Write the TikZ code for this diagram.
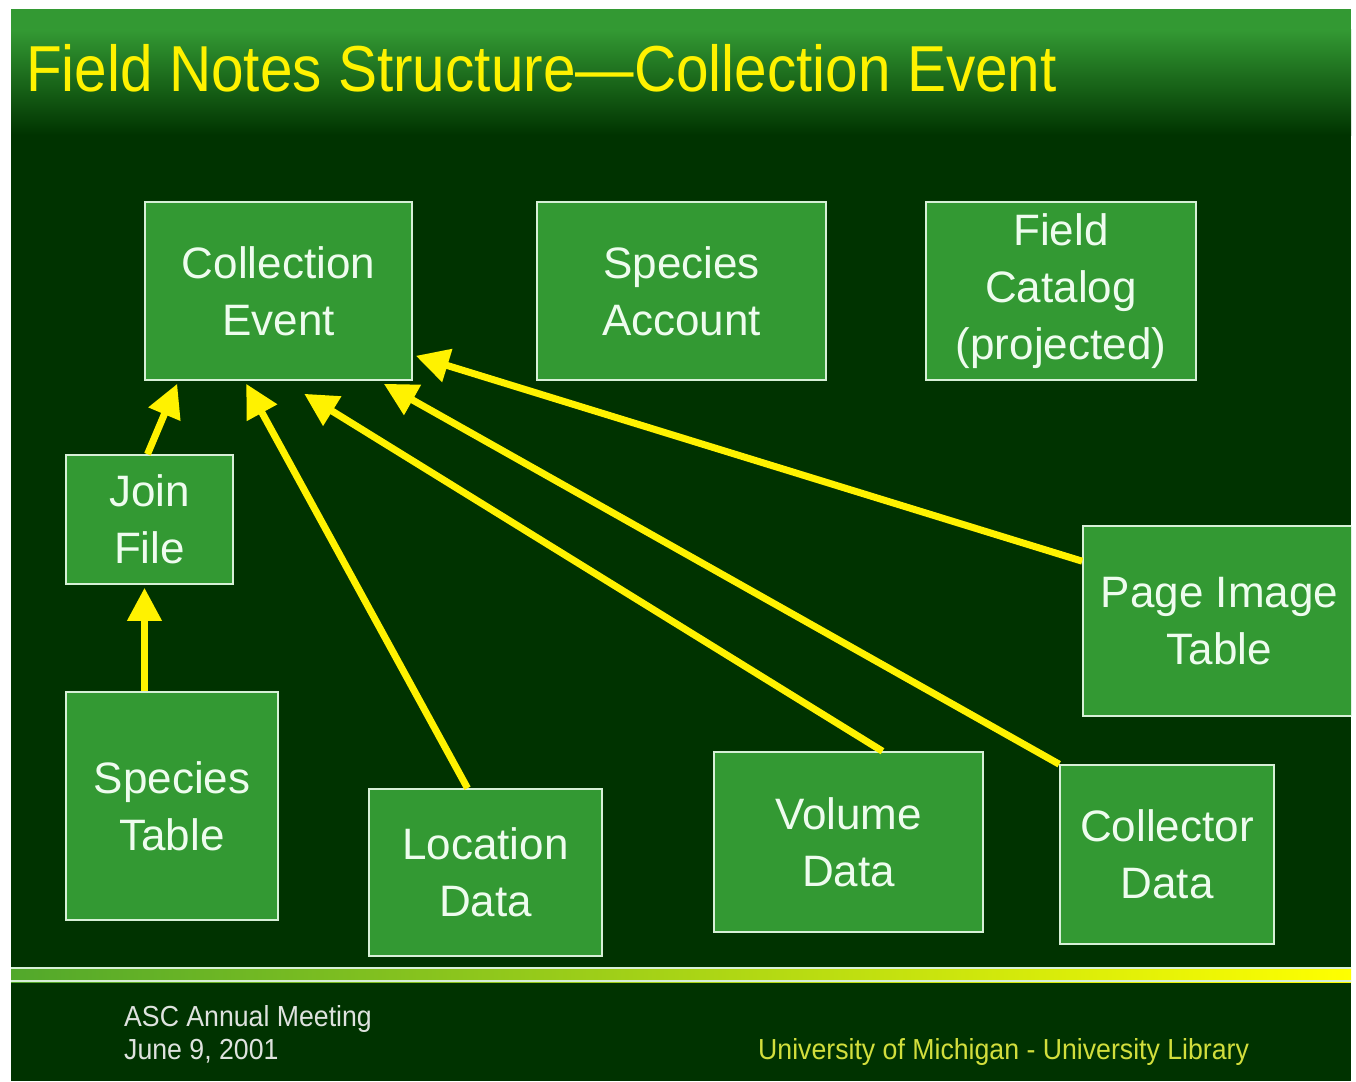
\documentclass[tikz,border=0pt]{standalone}
\usepackage{fontspec}
\usepackage{tikz}
\usepackage{xcolor}
\usetikzlibrary{
    arrows.meta,
    calc,
    positioning
}
\setmainfont{Liberation Sans}
\newfontfamily\titlefont[FakeStretch=0.9]{Liberation Sans}
\newfontfamily\footfont[FakeStretch=0.92]{Liberation Sans}

\definecolor{slidebg}{RGB}{0,51,0}
\definecolor{slidegreen}{RGB}{51,153,51}
\definecolor{boxline}{RGB}{215,240,215}
\definecolor{boxtext}{RGB}{238,252,238}
\definecolor{footgrey}{RGB}{222,226,222}
\definecolor{footyellow}{RGB}{210,222,60}

\tikzset{
    tablebox/.style={draw=boxline, line width=1.6pt, fill=slidegreen,
        text=boxtext, align=center, inner sep=0pt,
        font=\fontsize{44}{57}\selectfont},
    flow/.style={draw=yellow, line width=7pt,
        -{Triangle[length=33pt, width=33pt]}}
}

\begin{document}
\begin{tikzpicture}[x=1pt, y=-1pt]
    \fill[white] (0, 0) rectangle (1356, 1081);
    \useasboundingbox (0, 0) rectangle (1356, 1081);

    \begin{scope}
        \clip (11, 9) rectangle (1351, 1081);
        \fill[slidebg] (11, 9) rectangle (1351, 1081);
        \fill[slidegreen] (11, 9) rectangle (1351, 31);
        \shade[top color=slidegreen, bottom color=slidebg] (11, 30) rectangle (1351, 135);

        % bar above the footer
        \shade[left color=slidegreen!85!yellow, right color=yellow] (11, 967) rectangle (1351, 982);
        \draw[boxline, line width=1.5pt] (11, 968) -- (1351, 968);
        \draw[boxline, line width=1.5pt] (11, 981) -- (1351, 981);

        \node[anchor=base west, text=yellow, inner sep=0pt,
            font=\titlefont\fontsize{65}{70}\selectfont]
            (title) at (26, 92) {Field Notes Structure\textemdash Collection Event};

        \node[tablebox, minimum width=267pt, minimum height=178pt] (colev) at (278.5, 291) {Collection\\Event};
        \node[tablebox, minimum width=289pt, minimum height=178pt] (spacc) at (681.5, 291) {Species\\Account};
        \node[tablebox, minimum width=270pt, minimum height=178pt] (fcat) at (1061, 291) {Field\\Catalog\\(projected)};
        \node[tablebox, minimum width=167pt, minimum height=129pt] (join) at (149.5, 519.5) {Join\\File};
        \node[tablebox, minimum width=212pt, minimum height=228pt] (sptab) at (172, 806) {Species\\Table};
        \node[tablebox, minimum width=233pt, minimum height=167pt] (loc) at (485.5, 872.5) {Location\\Data};
        \node[tablebox, minimum width=269pt, minimum height=180pt] (vol) at (848.5, 842) {Volume\\Data};
        \node[tablebox, minimum width=214pt, minimum height=179pt] (coll) at (1167, 854.5) {Collector\\Data};
        \node[tablebox, minimum width=273pt, minimum height=190pt] (pgimg) at (1219.5, 621) {Page Image\\Table};

        \draw
        ([xshift=-2pt]join.north) edge[flow] ([xshift=33pt, yshift=-3pt]colev.south west)
        ([xshift=-5pt]join.south |- sptab.north) edge[flow] ([xshift=-5pt, yshift=-3pt]join.south)
        ([xshift=-18pt]loc.north) edge[flow] ([xshift=102pt, yshift=-3pt]colev.south west)
        ([xshift=34pt]vol.north) edge[flow] ([xshift=160pt, yshift=-13pt]colev.south west)
        (coll.north west) edge[flow] ([xshift=-29pt, yshift=-3pt]colev.south east)
        ([yshift=-36pt]pgimg.north west) edge[flow] ([xshift=3pt, yshift=25pt]colev.south east);

        \node[anchor=base west, text=footgrey, inner sep=0pt, align=left,
            font=\footfont\fontsize{29}{33}\selectfont]
            (meeting) at (124, 1059) {ASC Annual Meeting\\June 9, 2001};
        \node[anchor=base west, text=footyellow, inner sep=0pt,
            font=\footfont\fontsize{29}{33}\selectfont]
            (library) at (758, 1059) {University of Michigan - University Library};
    \end{scope}
\end{tikzpicture}
\end{document}
